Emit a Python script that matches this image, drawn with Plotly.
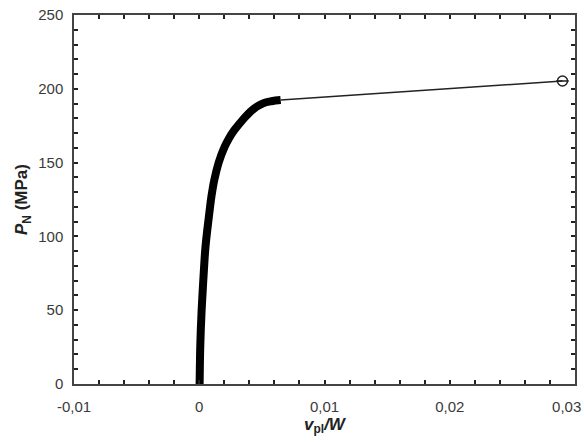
import plotly.graph_objects as go

# Thick loading curve (v_pl/W, P_N in MPa)
curve_x = [0.00003, 0.00008, 0.00018, 0.00032, 0.00042, 0.00050, 0.00064, 0.00080,
           0.00097, 0.00120, 0.00155, 0.00203, 0.00237, 0.00281, 0.00347, 0.00423,
           0.00509, 0.00577, 0.00650]
curve_y = [0.0, 25.0, 48.0, 70.0, 84.0, 93.0, 104.3, 115.6,
           126.9, 138.2, 150.0, 160.8, 166.4, 172.1, 179.0, 185.6,
           190.1, 191.6, 192.4]

# Thin extrapolated segment to final point
tail_x = [0.0065, 0.0290]
tail_y = [192.4, 205.3]

end_x = [0.0290]
end_y = [205.3]

x_range = [-0.01, 0.03]
y_range = [0, 250]
x_tickvals = [-0.01, 0.0, 0.01, 0.02, 0.03]
x_ticktext = ["-0,01", "0", "0,01", "0,02", "0,03\u00a0\u00a0\u00a0\u00a0"]
y_tickvals = [0, 50, 100, 150, 200, 250]
x_minor_step = 0.002
y_minor_step = 10

fig = go.Figure()
fig.add_trace(go.Scatter(x=curve_x, y=curve_y, mode="lines",
                         line=dict(color="black", width=8, shape="spline", smoothing=1.0),
                         showlegend=False))
fig.add_trace(go.Scatter(x=tail_x, y=tail_y, mode="lines",
                         line=dict(color="#222222", width=1.5),
                         showlegend=False))
fig.add_trace(go.Scatter(x=end_x, y=end_y, mode="markers",
                         marker=dict(symbol="circle-open", size=10, color="#222222",
                                     line=dict(width=1.5)),
                         showlegend=False))
fig.add_trace(go.Scatter(x=end_x, y=end_y, mode="markers",
                         marker=dict(symbol="line-ew-open", size=9, color="#222222",
                                     line=dict(width=1.5)),
                         showlegend=False))
# invisible trace to carry the minor-tick overlay axes
fig.add_trace(go.Scatter(x=end_x, y=end_y, mode="markers", xaxis="x2", yaxis="y2",
                         marker=dict(opacity=0), hoverinfo="skip", showlegend=False))

axis_common = dict(
    showline=True, linecolor="#444444", linewidth=1.5, mirror="ticks",
    ticks="inside", ticklen=4, tickcolor="#222222", tickwidth=1.5,
    showgrid=False, zeroline=False, ticklabeloverflow="allow", automargin=False,
    tickfont=dict(family="Liberation Sans, Arial", size=15, color="#3a3a3a"),
)

minor_common = dict(
    showline=False, mirror="ticks", ticks="inside", ticklen=4,
    tickcolor="#222222", tickwidth=1.5, showticklabels=False,
    showgrid=False, zeroline=False, tickmode="linear", tick0=0,
)

fig.update_layout(
    width=584, height=443,
    margin=dict(l=74, r=9, t=15, b=59),
    plot_bgcolor="white", paper_bgcolor="white",
    xaxis=dict(
        range=x_range, tickmode="array", tickvals=x_tickvals, ticktext=x_ticktext,
        ticklabelstandoff=8,
        title=dict(text="<b><i>v</i><sub>pl</sub><i>/W</i></b>",
                   font=dict(family="Liberation Sans, Arial", size=17, color="#222222"),
                   standoff=4),
        **axis_common,
    ),
    yaxis=dict(
        range=y_range, tickmode="array", tickvals=y_tickvals,
        ticklabelstandoff=6,
        title=dict(text="<b><i>P</i><sub>N</sub> (MPa)</b>",
                   font=dict(family="Liberation Sans, Arial", size=17, color="#222222"),
                   standoff=6),
        **axis_common,
    ),
    xaxis2=dict(overlaying="x", anchor="y2", side="bottom", range=x_range,
                dtick=x_minor_step, **minor_common),
    yaxis2=dict(overlaying="y", anchor="x2", side="left", range=y_range,
                dtick=y_minor_step, **minor_common),
)

fig.write_html("out.html")
